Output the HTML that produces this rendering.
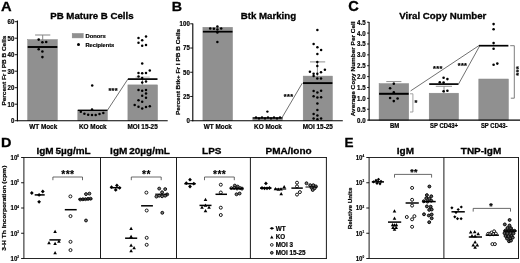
<!DOCTYPE html>
<html lang="en">
<head>
<meta charset="utf-8">
<title>Figure</title>
<style>
html,body{margin:0;padding:0;background:#fff;}
body{width:520px;height:263px;overflow:hidden;}
svg{display:block;font-family:"Liberation Sans",sans-serif;}
</style>
</head>
<body>
<svg width="520" height="263" viewBox="0 0 520 263">
<rect x="0" y="0" width="520" height="263" fill="#fff"/>
<text transform="translate(0.9 11.2) scale(1.13 1)" font-size="13.0" font-weight="bold" text-anchor="start" fill="#000" stroke="#000" stroke-width="0.3">A</text>
<text transform="translate(91.9 19.3)" font-size="9.7" font-weight="bold" text-anchor="middle" fill="#000" stroke="#000" stroke-width="0.3">PB Mature B Cells</text>
<text transform="translate(5.6 70.6) rotate(-90) scale(1.077 1)" font-size="6.0" font-weight="bold" text-anchor="middle" fill="#000" stroke="#000" stroke-width="0.2">Percent Fr I PB B Cells</text>
<rect x="27.7" y="39.6" width="29.599999999999998" height="81.1" fill="#909090" stroke="#868686" stroke-width="0.5"/>
<rect x="77.8" y="110.2" width="29.60000000000001" height="10.5" fill="#909090" stroke="#868686" stroke-width="0.5"/>
<rect x="127.9" y="84.9" width="29.599999999999994" height="35.8" fill="#909090" stroke="#868686" stroke-width="0.5"/>
<line x1="42.7" y1="35.0" x2="42.7" y2="40.0" stroke="#848484" stroke-width="1.0" stroke-linecap="butt"/>
<line x1="35.1" y1="35.0" x2="50.300000000000004" y2="35.0" stroke="#848484" stroke-width="1.0" stroke-linecap="butt"/>
<line x1="142.5" y1="77.1" x2="142.5" y2="84.8" stroke="#848484" stroke-width="0.8" stroke-linecap="butt"/>
<line x1="135.5" y1="77.1" x2="149.7" y2="77.1" stroke="#aaa" stroke-width="0.8" stroke-linecap="butt"/>
<line x1="27.7" y1="47.0" x2="57.3" y2="47.0" stroke="#000" stroke-width="1.9" stroke-linecap="butt"/>
<line x1="77.8" y1="110.3" x2="107.4" y2="110.3" stroke="#000" stroke-width="1.4" stroke-linecap="butt"/>
<line x1="127.9" y1="79.1" x2="157.5" y2="79.1" stroke="#000" stroke-width="1.7" stroke-linecap="butt"/>
<line x1="107.4" y1="110.3" x2="127.9" y2="79.1" stroke="#333" stroke-width="0.7" stroke-linecap="butt"/>
<text transform="translate(113.2 92.6)" font-size="7.3" font-weight="bold" text-anchor="middle" fill="#000" stroke="#000" stroke-width="0.25" stroke-linejoin="round" letter-spacing="0.35">***</text>
<line x1="17.4" y1="20.6" x2="17.4" y2="121.2" stroke="#000" stroke-width="1.1" stroke-linecap="butt"/>
<line x1="16.9" y1="120.7" x2="167.7" y2="120.7" stroke="#000" stroke-width="1.1" stroke-linecap="butt"/>
<line x1="14.799999999999999" y1="120.7" x2="17.4" y2="120.7" stroke="#000" stroke-width="0.9" stroke-linecap="butt"/>
<text transform="translate(14.399999999999999 123.10000000000001) scale(0.9 1)" font-size="6.8" font-weight="bold" text-anchor="end" fill="#000" stroke="#000" stroke-width="0.2">0</text>
<line x1="14.799999999999999" y1="104.2" x2="17.4" y2="104.2" stroke="#000" stroke-width="0.9" stroke-linecap="butt"/>
<text transform="translate(14.399999999999999 106.60000000000001) scale(0.9 1)" font-size="6.8" font-weight="bold" text-anchor="end" fill="#000" stroke="#000" stroke-width="0.2">10</text>
<line x1="14.799999999999999" y1="87.7" x2="17.4" y2="87.7" stroke="#000" stroke-width="0.9" stroke-linecap="butt"/>
<text transform="translate(14.399999999999999 90.10000000000001) scale(0.9 1)" font-size="6.8" font-weight="bold" text-anchor="end" fill="#000" stroke="#000" stroke-width="0.2">20</text>
<line x1="14.799999999999999" y1="71.2" x2="17.4" y2="71.2" stroke="#000" stroke-width="0.9" stroke-linecap="butt"/>
<text transform="translate(14.399999999999999 73.60000000000001) scale(0.9 1)" font-size="6.8" font-weight="bold" text-anchor="end" fill="#000" stroke="#000" stroke-width="0.2">30</text>
<line x1="14.799999999999999" y1="54.7" x2="17.4" y2="54.7" stroke="#000" stroke-width="0.9" stroke-linecap="butt"/>
<text transform="translate(14.399999999999999 57.1) scale(0.9 1)" font-size="6.8" font-weight="bold" text-anchor="end" fill="#000" stroke="#000" stroke-width="0.2">40</text>
<line x1="14.799999999999999" y1="38.2" x2="17.4" y2="38.2" stroke="#000" stroke-width="0.9" stroke-linecap="butt"/>
<text transform="translate(14.399999999999999 40.6) scale(0.9 1)" font-size="6.8" font-weight="bold" text-anchor="end" fill="#000" stroke="#000" stroke-width="0.2">50</text>
<line x1="14.799999999999999" y1="21.7" x2="17.4" y2="21.7" stroke="#000" stroke-width="0.9" stroke-linecap="butt"/>
<text transform="translate(14.399999999999999 24.099999999999998) scale(0.9 1)" font-size="6.8" font-weight="bold" text-anchor="end" fill="#000" stroke="#000" stroke-width="0.2">60</text>
<text transform="translate(43.2 128.5)" font-size="6.4" font-weight="bold" text-anchor="middle" fill="#000" stroke="#000" stroke-width="0.2">WT Mock</text>
<text transform="translate(92.8 128.5)" font-size="6.4" font-weight="bold" text-anchor="middle" fill="#000" stroke="#000" stroke-width="0.2">KO Mock</text>
<text transform="translate(142.6 128.5)" font-size="6.4" font-weight="bold" text-anchor="middle" fill="#000" stroke="#000" stroke-width="0.2">MOI 15-25</text>
<rect x="72.2" y="33.5" width="11" height="4.4" fill="#909090" stroke="#868686" stroke-width="0.5"/>
<text transform="translate(85.5 37.8)" font-size="5.8" font-weight="bold" text-anchor="start" fill="#000" stroke="#000" stroke-width="0.2">Donors</text>
<circle cx="78.5" cy="44.6" r="1.5" fill="#000"/>
<text transform="translate(85.5 46.8)" font-size="5.7" font-weight="bold" text-anchor="start" fill="#000" stroke="#000" stroke-width="0.2">Recipients</text>
<circle cx="38.7" cy="39.6" r="1.3" fill="#000"/>
<circle cx="42.4" cy="42.3" r="1.3" fill="#000"/>
<circle cx="46.2" cy="42.0" r="1.3" fill="#000"/>
<circle cx="38.7" cy="49.3" r="1.3" fill="#000"/>
<circle cx="42.4" cy="51.5" r="1.3" fill="#000"/>
<circle cx="42.4" cy="57.1" r="1.3" fill="#000"/>
<circle cx="92.2" cy="85.6" r="1.25" fill="#000"/>
<circle cx="80.8" cy="111.8" r="1.25" fill="#000"/>
<circle cx="84.4" cy="113.8" r="1.25" fill="#000"/>
<circle cx="88.2" cy="114.7" r="1.25" fill="#000"/>
<circle cx="92" cy="114.9" r="1.25" fill="#000"/>
<circle cx="95.7" cy="114.9" r="1.25" fill="#000"/>
<circle cx="99.5" cy="114.1" r="1.25" fill="#000"/>
<circle cx="103.3" cy="113.1" r="1.25" fill="#000"/>
<circle cx="92" cy="109.6" r="1.25" fill="#000"/>
<circle cx="138.5" cy="38.0" r="1.25" fill="#000"/>
<circle cx="146" cy="36.4" r="1.25" fill="#000"/>
<circle cx="142.2" cy="40.2" r="1.25" fill="#000"/>
<circle cx="138.5" cy="42.7" r="1.25" fill="#000"/>
<circle cx="142.2" cy="45.8" r="1.25" fill="#000"/>
<circle cx="146" cy="44.9" r="1.25" fill="#000"/>
<circle cx="142.2" cy="63.6" r="1.25" fill="#000"/>
<circle cx="149.8" cy="70.5" r="1.25" fill="#000"/>
<circle cx="138.5" cy="73.1" r="1.25" fill="#000"/>
<circle cx="142.2" cy="73.3" r="1.25" fill="#000"/>
<circle cx="146" cy="73.1" r="1.25" fill="#000"/>
<circle cx="138.5" cy="76.6" r="1.25" fill="#000"/>
<circle cx="142.2" cy="78" r="1.25" fill="#000"/>
<circle cx="142.2" cy="82.5" r="1.25" fill="#000"/>
<circle cx="146" cy="81.6" r="1.25" fill="#000"/>
<circle cx="138.5" cy="90.1" r="1.25" fill="#000"/>
<circle cx="142.2" cy="90.8" r="1.25" fill="#000"/>
<circle cx="146" cy="90.1" r="1.25" fill="#000"/>
<circle cx="146" cy="93.6" r="1.25" fill="#000"/>
<circle cx="142.2" cy="95.8" r="1.25" fill="#000"/>
<circle cx="146" cy="97.8" r="1.25" fill="#000"/>
<circle cx="138.5" cy="100.2" r="1.25" fill="#000"/>
<circle cx="142.2" cy="101.8" r="1.25" fill="#000"/>
<circle cx="134.7" cy="104.9" r="1.25" fill="#000"/>
<circle cx="138.5" cy="106.8" r="1.25" fill="#000"/>
<circle cx="142.2" cy="108.5" r="1.25" fill="#000"/>
<circle cx="146" cy="107.1" r="1.25" fill="#000"/>
<circle cx="149.8" cy="106.2" r="1.25" fill="#000"/>
<text transform="translate(171.8 10.7) scale(1.05 1)" font-size="13.6" font-weight="bold" text-anchor="start" fill="#000" stroke="#000" stroke-width="0.3">B</text>
<text transform="translate(268.4 19.4)" font-size="9.7" font-weight="bold" text-anchor="middle" fill="#000" stroke="#000" stroke-width="0.3">Btk Marking</text>
<text transform="translate(180.0 71.9) rotate(-90) scale(1.08 1)" font-size="6.0" font-weight="bold" text-anchor="middle" fill="#000" stroke="#000" stroke-width="0.2">Percent Btk+ Fr I PB B Cells</text>
<rect x="202.9" y="27.3" width="29.599999999999994" height="93.4" fill="#909090" stroke="#868686" stroke-width="0.5"/>
<rect x="252.8" y="117.6" width="29.599999999999966" height="3.1000000000000085" fill="#909090" stroke="#868686" stroke-width="0.5"/>
<rect x="303.2" y="76.1" width="29.19999999999999" height="44.60000000000001" fill="#909090" stroke="#868686" stroke-width="0.5"/>
<line x1="317.4" y1="61.9" x2="317.4" y2="76.1" stroke="#848484" stroke-width="0.9" stroke-linecap="butt"/>
<line x1="310.0" y1="61.9" x2="325.2" y2="61.9" stroke="#848484" stroke-width="0.9" stroke-linecap="butt"/>
<line x1="202.9" y1="31.7" x2="232.5" y2="31.7" stroke="#000" stroke-width="1.7" stroke-linecap="butt"/>
<line x1="252.8" y1="118.0" x2="282.4" y2="118.0" stroke="#000" stroke-width="1.3" stroke-linecap="butt"/>
<line x1="303.0" y1="83.1" x2="332.4" y2="83.1" stroke="#000" stroke-width="1.9" stroke-linecap="butt"/>
<line x1="281.8" y1="118.0" x2="302.3" y2="83.1" stroke="#333" stroke-width="0.7" stroke-linecap="butt"/>
<text transform="translate(288.6 98.8)" font-size="7.3" font-weight="bold" text-anchor="middle" fill="#000" stroke="#000" stroke-width="0.25" stroke-linejoin="round" letter-spacing="0.35">***</text>
<line x1="192.8" y1="23.4" x2="192.8" y2="121.2" stroke="#000" stroke-width="1.1" stroke-linecap="butt"/>
<line x1="192.3" y1="120.7" x2="342.8" y2="120.7" stroke="#000" stroke-width="1.1" stroke-linecap="butt"/>
<line x1="190.20000000000002" y1="120.7" x2="192.8" y2="120.7" stroke="#000" stroke-width="0.9" stroke-linecap="butt"/>
<text transform="translate(189.8 123.10000000000001) scale(0.9 1)" font-size="6.8" font-weight="bold" text-anchor="end" fill="#000" stroke="#000" stroke-width="0.2">0</text>
<line x1="190.20000000000002" y1="96.48" x2="192.8" y2="96.48" stroke="#000" stroke-width="0.9" stroke-linecap="butt"/>
<text transform="translate(189.8 98.88000000000001) scale(0.9 1)" font-size="6.8" font-weight="bold" text-anchor="end" fill="#000" stroke="#000" stroke-width="0.2">25</text>
<line x1="190.20000000000002" y1="72.25" x2="192.8" y2="72.25" stroke="#000" stroke-width="0.9" stroke-linecap="butt"/>
<text transform="translate(189.8 74.65) scale(0.9 1)" font-size="6.8" font-weight="bold" text-anchor="end" fill="#000" stroke="#000" stroke-width="0.2">50</text>
<line x1="190.20000000000002" y1="48.03" x2="192.8" y2="48.03" stroke="#000" stroke-width="0.9" stroke-linecap="butt"/>
<text transform="translate(189.8 50.43) scale(0.9 1)" font-size="6.8" font-weight="bold" text-anchor="end" fill="#000" stroke="#000" stroke-width="0.2">75</text>
<line x1="190.20000000000002" y1="23.8" x2="192.8" y2="23.8" stroke="#000" stroke-width="0.9" stroke-linecap="butt"/>
<text transform="translate(189.8 26.2) scale(0.9 1)" font-size="6.8" font-weight="bold" text-anchor="end" fill="#000" stroke="#000" stroke-width="0.2">100</text>
<text transform="translate(217.8 128.5)" font-size="6.4" font-weight="bold" text-anchor="middle" fill="#000" stroke="#000" stroke-width="0.2">WT Mock</text>
<text transform="translate(267.9 128.5)" font-size="6.4" font-weight="bold" text-anchor="middle" fill="#000" stroke="#000" stroke-width="0.2">KO Mock</text>
<text transform="translate(317.8 128.5)" font-size="6.4" font-weight="bold" text-anchor="middle" fill="#000" stroke="#000" stroke-width="0.2">MOI 15-25</text>
<circle cx="210.2" cy="28.4" r="1.25" fill="#000"/>
<circle cx="213.9" cy="28.8" r="1.25" fill="#000"/>
<circle cx="217.4" cy="26.5" r="1.25" fill="#000"/>
<circle cx="221.2" cy="28.4" r="1.25" fill="#000"/>
<circle cx="217.4" cy="29.5" r="1.25" fill="#000"/>
<circle cx="217.4" cy="32.4" r="1.25" fill="#000"/>
<circle cx="217.4" cy="41.9" r="1.25" fill="#000"/>
<circle cx="267.4" cy="111.6" r="1.2" fill="#000"/>
<circle cx="256" cy="117.4" r="1.2" fill="#000"/>
<circle cx="259" cy="118.4" r="1.2" fill="#000"/>
<circle cx="262" cy="117.4" r="1.2" fill="#000"/>
<circle cx="265" cy="118.4" r="1.2" fill="#000"/>
<circle cx="268" cy="117.4" r="1.2" fill="#000"/>
<circle cx="271" cy="118.4" r="1.2" fill="#000"/>
<circle cx="274" cy="117.4" r="1.2" fill="#000"/>
<circle cx="277" cy="118.4" r="1.2" fill="#000"/>
<circle cx="280" cy="117.4" r="1.2" fill="#000"/>
<circle cx="317.4" cy="29.9" r="1.25" fill="#000"/>
<circle cx="313.6" cy="44" r="1.25" fill="#000"/>
<circle cx="317.4" cy="47.3" r="1.25" fill="#000"/>
<circle cx="321.1" cy="49.9" r="1.25" fill="#000"/>
<circle cx="317.4" cy="54" r="1.25" fill="#000"/>
<circle cx="317.3" cy="61.9" r="1.25" fill="#000"/>
<circle cx="317.3" cy="65.9" r="1.25" fill="#000"/>
<circle cx="309.9" cy="71.7" r="1.25" fill="#000"/>
<circle cx="324.9" cy="69.8" r="1.25" fill="#000"/>
<circle cx="321" cy="72.2" r="1.25" fill="#000"/>
<circle cx="313.6" cy="73.8" r="1.25" fill="#000"/>
<circle cx="317.3" cy="73.8" r="1.25" fill="#000"/>
<circle cx="313.6" cy="75.9" r="1.25" fill="#000"/>
<circle cx="317.3" cy="78.4" r="1.25" fill="#000"/>
<circle cx="321" cy="78.4" r="1.25" fill="#000"/>
<circle cx="313.6" cy="91.1" r="1.25" fill="#000"/>
<circle cx="317.4" cy="92.4" r="1.25" fill="#000"/>
<circle cx="321.1" cy="90.8" r="1.25" fill="#000"/>
<circle cx="313.6" cy="96.2" r="1.25" fill="#000"/>
<circle cx="317.4" cy="97.4" r="1.25" fill="#000"/>
<circle cx="321.1" cy="97.2" r="1.25" fill="#000"/>
<circle cx="317.4" cy="103.4" r="1.25" fill="#000"/>
<circle cx="317.4" cy="110" r="1.25" fill="#000"/>
<circle cx="313.6" cy="114" r="1.25" fill="#000"/>
<circle cx="317.4" cy="115.6" r="1.25" fill="#000"/>
<circle cx="313.6" cy="118.5" r="1.25" fill="#000"/>
<circle cx="317.4" cy="119.2" r="1.25" fill="#000"/>
<circle cx="321.1" cy="118.5" r="1.25" fill="#000"/>
<text transform="translate(348.2 11.3) scale(1.02 1)" font-size="14.3" font-weight="bold" text-anchor="start" fill="#000" stroke="#000" stroke-width="0.3">C</text>
<text transform="translate(442.8 18.9)" font-size="9.7" font-weight="bold" text-anchor="middle" fill="#000" stroke="#000" stroke-width="0.3">Viral Copy Number</text>
<text transform="translate(354.7 68.9) rotate(-90) scale(1.074 1)" font-size="6.0" font-weight="bold" text-anchor="middle" fill="#000" stroke="#000" stroke-width="0.2">Average Copy Number Per Cell</text>
<rect x="379.1" y="83.6" width="29.599999999999966" height="36.5" fill="#909090" stroke="#868686" stroke-width="0.5"/>
<rect x="429.2" y="93.2" width="29.30000000000001" height="26.89999999999999" fill="#909090" stroke="#868686" stroke-width="0.5"/>
<rect x="478.8" y="79.0" width="29.599999999999966" height="41.099999999999994" fill="#909090" stroke="#868686" stroke-width="0.5"/>
<line x1="393.9" y1="81.6" x2="393.9" y2="83.6" stroke="#848484" stroke-width="0.9" stroke-linecap="butt"/>
<line x1="386.3" y1="81.6" x2="401.4" y2="81.6" stroke="#909090" stroke-width="1.0" stroke-linecap="butt"/>
<line x1="444.0" y1="86.3" x2="444.0" y2="93.2" stroke="#848484" stroke-width="0.9" stroke-linecap="butt"/>
<line x1="435.8" y1="86.3" x2="452.0" y2="86.3" stroke="#848484" stroke-width="0.9" stroke-linecap="butt"/>
<line x1="379.1" y1="93.8" x2="408.7" y2="93.8" stroke="#000" stroke-width="2.0" stroke-linecap="butt"/>
<line x1="429.2" y1="84.1" x2="458.5" y2="84.1" stroke="#000" stroke-width="1.7" stroke-linecap="butt"/>
<line x1="478.8" y1="45.7" x2="508.4" y2="45.7" stroke="#000" stroke-width="1.7" stroke-linecap="butt"/>
<line x1="410.6" y1="90.9" x2="478.8" y2="45.7" stroke="#333" stroke-width="0.7" stroke-linecap="butt"/>
<line x1="458.5" y1="84.1" x2="479.8" y2="45.7" stroke="#333" stroke-width="0.7" stroke-linecap="butt"/>
<text transform="translate(437.9 71.1)" font-size="7.3" font-weight="bold" text-anchor="middle" fill="#000" stroke="#000" stroke-width="0.25" stroke-linejoin="round" letter-spacing="0.35">***</text>
<text transform="translate(462.5 68.0)" font-size="7.3" font-weight="bold" text-anchor="middle" fill="#000" stroke="#000" stroke-width="0.25" stroke-linejoin="round" letter-spacing="0.35">***</text>
<path d="M410.0 93.8L412.9 93.8L412.9 112.0L410.0 112.0" fill="none" stroke="#8a8a8a" stroke-width="0.8"/>
<text transform="translate(416.2 104.5)" font-size="7.3" font-weight="bold" text-anchor="middle" fill="#000" stroke="#000" stroke-width="0.25" stroke-linejoin="round" letter-spacing="0.35">*</text>
<path d="M510.2 45.7L514.3 45.7L514.3 98.2L510.8 98.2" fill="none" stroke="#666" stroke-width="0.85"/>
<text transform="translate(521.2 70.9) rotate(-90)" font-size="7.5" font-weight="bold" text-anchor="middle" fill="#000" stroke="#000" stroke-width="0.25" stroke-linejoin="round" letter-spacing="0.35">***</text>
<line x1="369.1" y1="21.9" x2="369.1" y2="120.6" stroke="#2a2a2a" stroke-width="1.3" stroke-linecap="butt"/>
<line x1="368.6" y1="120.1" x2="520" y2="120.1" stroke="#000" stroke-width="1.1" stroke-linecap="butt"/>
<line x1="367.1" y1="120.1" x2="369.1" y2="120.1" stroke="#000" stroke-width="0.9" stroke-linecap="butt"/>
<text transform="translate(365.6 122.5) scale(0.9 1)" font-size="6.8" font-weight="bold" text-anchor="end" fill="#000" stroke="#000" stroke-width="0.2">0.0</text>
<line x1="367.1" y1="109.22" x2="369.1" y2="109.22" stroke="#000" stroke-width="0.9" stroke-linecap="butt"/>
<text transform="translate(365.6 111.62) scale(0.9 1)" font-size="6.8" font-weight="bold" text-anchor="end" fill="#000" stroke="#000" stroke-width="0.2">0.5</text>
<line x1="367.1" y1="98.35" x2="369.1" y2="98.35" stroke="#000" stroke-width="0.9" stroke-linecap="butt"/>
<text transform="translate(365.6 100.75) scale(0.9 1)" font-size="6.8" font-weight="bold" text-anchor="end" fill="#000" stroke="#000" stroke-width="0.2">1.0</text>
<line x1="367.1" y1="87.47" x2="369.1" y2="87.47" stroke="#000" stroke-width="0.9" stroke-linecap="butt"/>
<text transform="translate(365.6 89.87) scale(0.9 1)" font-size="6.8" font-weight="bold" text-anchor="end" fill="#000" stroke="#000" stroke-width="0.2">1.5</text>
<line x1="367.1" y1="76.6" x2="369.1" y2="76.6" stroke="#000" stroke-width="0.9" stroke-linecap="butt"/>
<text transform="translate(365.6 79.0) scale(0.9 1)" font-size="6.8" font-weight="bold" text-anchor="end" fill="#000" stroke="#000" stroke-width="0.2">2.0</text>
<line x1="367.1" y1="65.72" x2="369.1" y2="65.72" stroke="#000" stroke-width="0.9" stroke-linecap="butt"/>
<text transform="translate(365.6 68.12) scale(0.9 1)" font-size="6.8" font-weight="bold" text-anchor="end" fill="#000" stroke="#000" stroke-width="0.2">2.5</text>
<line x1="367.1" y1="54.85" x2="369.1" y2="54.85" stroke="#000" stroke-width="0.9" stroke-linecap="butt"/>
<text transform="translate(365.6 57.25) scale(0.9 1)" font-size="6.8" font-weight="bold" text-anchor="end" fill="#000" stroke="#000" stroke-width="0.2">3.0</text>
<line x1="367.1" y1="43.97" x2="369.1" y2="43.97" stroke="#000" stroke-width="0.9" stroke-linecap="butt"/>
<text transform="translate(365.6 46.37) scale(0.9 1)" font-size="6.8" font-weight="bold" text-anchor="end" fill="#000" stroke="#000" stroke-width="0.2">3.5</text>
<line x1="367.1" y1="33.1" x2="369.1" y2="33.1" stroke="#000" stroke-width="0.9" stroke-linecap="butt"/>
<text transform="translate(365.6 35.5) scale(0.9 1)" font-size="6.8" font-weight="bold" text-anchor="end" fill="#000" stroke="#000" stroke-width="0.2">4.0</text>
<line x1="367.1" y1="22.22" x2="369.1" y2="22.22" stroke="#000" stroke-width="0.9" stroke-linecap="butt"/>
<text transform="translate(365.6 24.619999999999997) scale(0.9 1)" font-size="6.8" font-weight="bold" text-anchor="end" fill="#000" stroke="#000" stroke-width="0.2">4.5</text>
<text transform="translate(394.6 128.4) scale(0.94 1)" font-size="6.3" font-weight="bold" text-anchor="middle" fill="#000" stroke="#000" stroke-width="0.2">BM</text>
<text transform="translate(444.0 128.4) scale(0.94 1)" font-size="6.3" font-weight="bold" text-anchor="middle" fill="#000" stroke="#000" stroke-width="0.2">SP CD43+</text>
<text transform="translate(494.2 128.4) scale(0.94 1)" font-size="6.3" font-weight="bold" text-anchor="middle" fill="#000" stroke="#000" stroke-width="0.2">SP CD43-</text>
<circle cx="393.8" cy="83.8" r="1.3" fill="#000"/>
<circle cx="390.1" cy="88.2" r="1.3" fill="#000"/>
<circle cx="393.8" cy="92.4" r="1.3" fill="#000"/>
<circle cx="390.1" cy="98" r="1.3" fill="#000"/>
<circle cx="397.6" cy="98.5" r="1.3" fill="#000"/>
<circle cx="393.8" cy="101.1" r="1.3" fill="#000"/>
<circle cx="443.6" cy="77.8" r="1.3" fill="#000"/>
<circle cx="447.4" cy="79.1" r="1.3" fill="#000"/>
<circle cx="439.8" cy="82.2" r="1.3" fill="#000"/>
<circle cx="443.6" cy="82.6" r="1.3" fill="#000"/>
<circle cx="443.6" cy="91.3" r="1.3" fill="#000"/>
<circle cx="447.4" cy="90.7" r="1.3" fill="#000"/>
<circle cx="493.6" cy="24.1" r="1.3" fill="#000"/>
<circle cx="493.6" cy="29.3" r="1.3" fill="#000"/>
<circle cx="493.6" cy="43.1" r="1.3" fill="#000"/>
<circle cx="493.6" cy="48.8" r="1.3" fill="#000"/>
<circle cx="493.6" cy="64.7" r="1.3" fill="#000"/>
<circle cx="497.3" cy="63.6" r="1.3" fill="#000"/>
<text transform="translate(0.9 147.3) scale(1.07 1)" font-size="13.5" font-weight="bold" text-anchor="start" fill="#000" stroke="#000" stroke-width="0.3">D</text>
<text transform="translate(6.0 208.2) rotate(-90) scale(1.073 1)" font-size="6.2" font-weight="bold" text-anchor="middle" fill="#000" stroke="#000" stroke-width="0.2">3-H Th Incorporation (cpm)</text>
<line x1="23.9" y1="157.5" x2="326.9" y2="157.5" stroke="#1a1a1a" stroke-width="0.95" stroke-linecap="butt"/>
<line x1="23.9" y1="258.5" x2="326.9" y2="258.5" stroke="#1a1a1a" stroke-width="0.95" stroke-linecap="butt"/>
<line x1="23.9" y1="157.0" x2="23.9" y2="259.0" stroke="#1a1a1a" stroke-width="1.0" stroke-linecap="butt"/>
<line x1="100.5" y1="157.0" x2="100.5" y2="259.0" stroke="#1a1a1a" stroke-width="1.0" stroke-linecap="butt"/>
<line x1="176.5" y1="157.0" x2="176.5" y2="259.0" stroke="#1a1a1a" stroke-width="1.0" stroke-linecap="butt"/>
<line x1="250.4" y1="157.0" x2="250.4" y2="259.0" stroke="#1a1a1a" stroke-width="1.0" stroke-linecap="butt"/>
<line x1="326.4" y1="157.0" x2="326.4" y2="259.0" stroke="#1a1a1a" stroke-width="1.0" stroke-linecap="butt"/>
<line x1="21.099999999999998" y1="157.5" x2="23.9" y2="157.5" stroke="#000" stroke-width="0.9" stroke-linecap="butt"/>
<text transform="translate(19.0 159.9) scale(0.9 1)" font-size="6.8" font-weight="bold" text-anchor="end" stroke="#000" stroke-width="0.15">10<tspan font-size="3.4" dy="-2.9">6</tspan></text>
<line x1="21.099999999999998" y1="182.75" x2="23.9" y2="182.75" stroke="#000" stroke-width="0.9" stroke-linecap="butt"/>
<text transform="translate(19.0 185.15) scale(0.9 1)" font-size="6.8" font-weight="bold" text-anchor="end" stroke="#000" stroke-width="0.15">10<tspan font-size="3.4" dy="-2.9">5</tspan></text>
<line x1="21.099999999999998" y1="208.0" x2="23.9" y2="208.0" stroke="#000" stroke-width="0.9" stroke-linecap="butt"/>
<text transform="translate(19.0 210.4) scale(0.9 1)" font-size="6.8" font-weight="bold" text-anchor="end" stroke="#000" stroke-width="0.15">10<tspan font-size="3.4" dy="-2.9">4</tspan></text>
<line x1="21.099999999999998" y1="233.25" x2="23.9" y2="233.25" stroke="#000" stroke-width="0.9" stroke-linecap="butt"/>
<text transform="translate(19.0 235.65) scale(0.9 1)" font-size="6.8" font-weight="bold" text-anchor="end" stroke="#000" stroke-width="0.15">10<tspan font-size="3.4" dy="-2.9">3</tspan></text>
<line x1="21.099999999999998" y1="258.5" x2="23.9" y2="258.5" stroke="#000" stroke-width="0.9" stroke-linecap="butt"/>
<text transform="translate(19.0 260.9) scale(0.9 1)" font-size="6.8" font-weight="bold" text-anchor="end" stroke="#000" stroke-width="0.15">10<tspan font-size="3.4" dy="-2.9">2</tspan></text>
<text transform="translate(63.5 154.0) scale(1.02 1)" font-size="9.8" font-weight="bold" text-anchor="middle" fill="#000" word-spacing="-0.8" stroke="#000" stroke-width="0.3">IgM 5µg/mL</text>
<text transform="translate(140 154.0) scale(1.02 1)" font-size="9.8" font-weight="bold" text-anchor="middle" fill="#000" word-spacing="-0.8" stroke="#000" stroke-width="0.3">IgM 20µg/mL</text>
<text transform="translate(211.8 154.0) scale(1.02 1)" font-size="9.8" font-weight="bold" text-anchor="middle" fill="#000" word-spacing="-0.8" stroke="#000" stroke-width="0.3">LPS</text>
<text transform="translate(288.6 154.0) scale(1.02 1)" font-size="9.8" font-weight="bold" text-anchor="middle" fill="#000" word-spacing="-0.8" stroke="#000" stroke-width="0.3">PMA/Iono</text>
<path d="M52.9 180.2L52.9 177.0L82.5 177.0L82.5 180.2" fill="none" stroke="#444" stroke-width="0.8"/>
<text transform="translate(67.9 178.2)" font-size="10.4" font-weight="bold" text-anchor="middle" fill="#000" stroke="#000" stroke-width="0.15" stroke-linejoin="round" letter-spacing="0.35">***</text>
<path d="M131.3 180.2L131.3 177.0L161.2 177.0L161.2 180.2" fill="none" stroke="#444" stroke-width="0.8"/>
<text transform="translate(146.45 178.2)" font-size="10.4" font-weight="bold" text-anchor="middle" fill="#000" stroke="#000" stroke-width="0.15" stroke-linejoin="round" letter-spacing="0.35">**</text>
<path d="M204.5 180.2L204.5 177.0L234.3 177.0L234.3 180.2" fill="none" stroke="#444" stroke-width="0.8"/>
<text transform="translate(219.6 178.2)" font-size="10.4" font-weight="bold" text-anchor="middle" fill="#000" stroke="#000" stroke-width="0.15" stroke-linejoin="round" letter-spacing="0.35">***</text>
<path d="M29.900000000000002 193.0L31.8 191.1L33.7 193.0L31.8 194.9Z" fill="#000"/>
<path d="M40.9 191.5L42.8 189.6L44.699999999999996 191.5L42.8 193.4Z" fill="#000"/>
<path d="M37.2 194.9L39.1 193.0L41.0 194.9L39.1 196.8Z" fill="#000"/>
<path d="M37.2 201.8L39.1 199.9L41.0 201.8L39.1 203.70000000000002Z" fill="#000"/>
<line x1="34.7" y1="194.9" x2="44.7" y2="194.9" stroke="#000" stroke-width="1.5" stroke-linecap="butt"/>
<path d="M53.300000000000004 233.03L55.1 229.79L56.9 233.03Z" fill="#000"/>
<path d="M47.2 244.33L49 241.09L50.8 244.33Z" fill="#000"/>
<path d="M53.300000000000004 244.93L55.1 241.69L56.9 244.93Z" fill="#000"/>
<path d="M57.1 242.73L58.9 239.48999999999998L60.699999999999996 242.73Z" fill="#000"/>
<path d="M53.300000000000004 254.13L55.1 250.89L56.9 254.13Z" fill="#000"/>
<line x1="49.4" y1="239.9" x2="60.7" y2="239.9" stroke="#000" stroke-width="1.5" stroke-linecap="butt"/>
<circle cx="70.4" cy="196.4" r="1.5" fill="#fff" stroke="#000" stroke-width="0.9"/>
<circle cx="70.5" cy="216.1" r="1.5" fill="#fff" stroke="#000" stroke-width="0.9"/>
<circle cx="70.5" cy="241.8" r="1.5" fill="#fff" stroke="#000" stroke-width="0.9"/>
<circle cx="70.5" cy="250.1" r="1.5" fill="#fff" stroke="#000" stroke-width="0.9"/>
<line x1="64.8" y1="209.7" x2="76.7" y2="209.7" stroke="#000" stroke-width="1.5" stroke-linecap="butt"/>
<circle cx="80.3" cy="199.5" r="1.45" fill="#7a7a7a" stroke="#000" stroke-width="0.9"/>
<circle cx="82.9" cy="199.3" r="1.45" fill="#7a7a7a" stroke="#000" stroke-width="0.9"/>
<circle cx="85.5" cy="199.2" r="1.45" fill="#7a7a7a" stroke="#000" stroke-width="0.9"/>
<circle cx="88.1" cy="198.9" r="1.45" fill="#7a7a7a" stroke="#000" stroke-width="0.9"/>
<circle cx="90.6" cy="198.7" r="1.45" fill="#7a7a7a" stroke="#000" stroke-width="0.9"/>
<circle cx="86.0" cy="194.1" r="1.45" fill="#7a7a7a" stroke="#000" stroke-width="0.9"/>
<circle cx="89.4" cy="193.6" r="1.45" fill="#7a7a7a" stroke="#000" stroke-width="0.9"/>
<circle cx="86" cy="220.5" r="1.45" fill="#7a7a7a" stroke="#000" stroke-width="0.9"/>
<line x1="78.4" y1="199.2" x2="92.3" y2="199.0" stroke="#000" stroke-width="1.2" stroke-linecap="butt"/>
<path d="M109.6 187.2L111.5 185.29999999999998L113.4 187.2L111.5 189.1Z" fill="#000"/>
<path d="M115.0 185.4L116.9 183.5L118.80000000000001 185.4L116.9 187.3Z" fill="#000"/>
<path d="M117.69999999999999 187.8L119.6 185.9L121.5 187.8L119.6 189.70000000000002Z" fill="#000"/>
<path d="M113.8 189.9L115.7 188.0L117.60000000000001 189.9L115.7 191.8Z" fill="#000"/>
<line x1="110.5" y1="187.7" x2="120.8" y2="187.7" stroke="#000" stroke-width="1.5" stroke-linecap="butt"/>
<path d="M129.29999999999998 230.03L131.1 226.79L132.9 230.03Z" fill="#000"/>
<path d="M129.29999999999998 238.03L131.1 234.79L132.9 238.03Z" fill="#000"/>
<path d="M129.29999999999998 246.83L131.1 243.59L132.9 246.83Z" fill="#000"/>
<path d="M132.29999999999998 249.13L134.1 245.89L135.9 249.13Z" fill="#000"/>
<path d="M129.29999999999998 252.23L131.1 248.98999999999998L132.9 252.23Z" fill="#000"/>
<line x1="125.1" y1="238.2" x2="137.2" y2="238.2" stroke="#000" stroke-width="1.5" stroke-linecap="butt"/>
<circle cx="146.4" cy="192.6" r="1.5" fill="#fff" stroke="#000" stroke-width="0.9"/>
<circle cx="146.7" cy="210.5" r="1.5" fill="#fff" stroke="#000" stroke-width="0.9"/>
<circle cx="146.7" cy="237.8" r="1.5" fill="#fff" stroke="#000" stroke-width="0.9"/>
<circle cx="146.7" cy="244.8" r="1.5" fill="#fff" stroke="#000" stroke-width="0.9"/>
<line x1="141.1" y1="205.8" x2="152.9" y2="205.8" stroke="#000" stroke-width="1.5" stroke-linecap="butt"/>
<circle cx="159.2" cy="188.6" r="1.45" fill="#7a7a7a" stroke="#000" stroke-width="0.9"/>
<circle cx="165.2" cy="189.1" r="1.45" fill="#7a7a7a" stroke="#000" stroke-width="0.9"/>
<circle cx="162.1" cy="192.3" r="1.45" fill="#7a7a7a" stroke="#000" stroke-width="0.9"/>
<circle cx="156.4" cy="196.6" r="1.45" fill="#7a7a7a" stroke="#000" stroke-width="0.9"/>
<circle cx="159.2" cy="195.7" r="1.45" fill="#7a7a7a" stroke="#000" stroke-width="0.9"/>
<circle cx="162.1" cy="196.3" r="1.45" fill="#7a7a7a" stroke="#000" stroke-width="0.9"/>
<circle cx="165.2" cy="195.7" r="1.45" fill="#7a7a7a" stroke="#000" stroke-width="0.9"/>
<circle cx="167.2" cy="194.4" r="1.45" fill="#7a7a7a" stroke="#000" stroke-width="0.9"/>
<circle cx="162.3" cy="212.8" r="1.45" fill="#7a7a7a" stroke="#000" stroke-width="0.9"/>
<line x1="155.2" y1="194.2" x2="167.7" y2="194.2" stroke="#000" stroke-width="1.2" stroke-linecap="butt"/>
<path d="M184.4 183.2L186.3 181.29999999999998L188.20000000000002 183.2L186.3 185.1Z" fill="#000"/>
<path d="M188.1 179.7L190 177.79999999999998L191.9 179.7L190 181.6Z" fill="#000"/>
<path d="M191.9 183.7L193.8 181.79999999999998L195.70000000000002 183.7L193.8 185.6Z" fill="#000"/>
<path d="M188.1 186.5L190 184.6L191.9 186.5L190 188.4Z" fill="#000"/>
<line x1="184.4" y1="183.7" x2="195.7" y2="183.7" stroke="#000" stroke-width="1.5" stroke-linecap="butt"/>
<path d="M203.7 200.93L205.5 197.69L207.3 200.93Z" fill="#000"/>
<path d="M200.2 208.73L202 205.48999999999998L203.8 208.73Z" fill="#000"/>
<path d="M207.2 208.73L209 205.48999999999998L210.8 208.73Z" fill="#000"/>
<path d="M203.7 212.23L205.5 208.98999999999998L207.3 212.23Z" fill="#000"/>
<path d="M203.7 206.73L205.5 203.48999999999998L207.3 206.73Z" fill="#000"/>
<line x1="199.5" y1="205.4" x2="211.5" y2="205.4" stroke="#000" stroke-width="1.5" stroke-linecap="butt"/>
<circle cx="220.8" cy="184.7" r="1.5" fill="#fff" stroke="#000" stroke-width="0.9"/>
<circle cx="220.8" cy="192.5" r="1.5" fill="#fff" stroke="#000" stroke-width="0.9"/>
<circle cx="220.8" cy="207.7" r="1.5" fill="#fff" stroke="#000" stroke-width="0.9"/>
<circle cx="220.8" cy="215.0" r="1.5" fill="#fff" stroke="#000" stroke-width="0.9"/>
<line x1="215.5" y1="194.3" x2="227.0" y2="194.3" stroke="#000" stroke-width="1.5" stroke-linecap="butt"/>
<circle cx="231.4" cy="188.1" r="1.45" fill="#7a7a7a" stroke="#000" stroke-width="0.9"/>
<circle cx="234.8" cy="185.6" r="1.45" fill="#7a7a7a" stroke="#000" stroke-width="0.9"/>
<circle cx="237.7" cy="186.6" r="1.45" fill="#7a7a7a" stroke="#000" stroke-width="0.9"/>
<circle cx="234.2" cy="188.0" r="1.45" fill="#7a7a7a" stroke="#000" stroke-width="0.9"/>
<circle cx="237.1" cy="188.5" r="1.45" fill="#7a7a7a" stroke="#000" stroke-width="0.9"/>
<circle cx="240.2" cy="188.1" r="1.45" fill="#7a7a7a" stroke="#000" stroke-width="0.9"/>
<circle cx="242.0" cy="188.6" r="1.45" fill="#7a7a7a" stroke="#000" stroke-width="0.9"/>
<circle cx="236.5" cy="194.3" r="1.45" fill="#7a7a7a" stroke="#000" stroke-width="0.9"/>
<circle cx="239.6" cy="193.5" r="1.45" fill="#7a7a7a" stroke="#000" stroke-width="0.9"/>
<line x1="229.8" y1="188.6" x2="243" y2="188.6" stroke="#000" stroke-width="1.2" stroke-linecap="butt"/>
<path d="M260.1 188L262 186.1L263.9 188L262 189.9Z" fill="#000"/>
<path d="M262.6 188.3L264.5 186.4L266.4 188.3L264.5 190.20000000000002Z" fill="#000"/>
<path d="M265.1 188.3L267 186.4L268.9 188.3L267 190.20000000000002Z" fill="#000"/>
<path d="M267.6 188L269.5 186.1L271.4 188L269.5 189.9Z" fill="#000"/>
<path d="M264.0 183.4L265.9 181.5L267.79999999999995 183.4L265.9 185.3Z" fill="#000"/>
<line x1="260" y1="188.1" x2="271.5" y2="188.1" stroke="#000" stroke-width="1.5" stroke-linecap="butt"/>
<path d="M273.7 190.23L275.5 186.98999999999998L277.3 190.23Z" fill="#000"/>
<path d="M276.5 190.73L278.3 187.48999999999998L280.1 190.73Z" fill="#000"/>
<path d="M279.2 190.43L281 187.19L282.8 190.43Z" fill="#000"/>
<path d="M282.4 188.33L284.2 185.09L286.0 188.33Z" fill="#000"/>
<path d="M279.4 195.33L281.2 192.09L283.0 195.33Z" fill="#000"/>
<line x1="274.5" y1="189.0" x2="286.2" y2="189.0" stroke="#000" stroke-width="1.2" stroke-linecap="butt"/>
<circle cx="297" cy="182.7" r="1.5" fill="#fff" stroke="#000" stroke-width="0.9"/>
<circle cx="297" cy="186.4" r="1.5" fill="#fff" stroke="#000" stroke-width="0.9"/>
<circle cx="297" cy="194.6" r="1.5" fill="#fff" stroke="#000" stroke-width="0.9"/>
<circle cx="299.9" cy="192.1" r="1.5" fill="#fff" stroke="#000" stroke-width="0.9"/>
<line x1="291.4" y1="188.1" x2="302.8" y2="188.1" stroke="#000" stroke-width="1.5" stroke-linecap="butt"/>
<circle cx="306.5" cy="183.3" r="1.45" fill="#7a7a7a" stroke="#000" stroke-width="0.9"/>
<circle cx="310.2" cy="185.2" r="1.45" fill="#7a7a7a" stroke="#000" stroke-width="0.9"/>
<circle cx="313.3" cy="185.2" r="1.45" fill="#7a7a7a" stroke="#000" stroke-width="0.9"/>
<circle cx="315.9" cy="186.4" r="1.45" fill="#7a7a7a" stroke="#000" stroke-width="0.9"/>
<circle cx="311.5" cy="187.7" r="1.45" fill="#7a7a7a" stroke="#000" stroke-width="0.9"/>
<circle cx="314.6" cy="188.3" r="1.45" fill="#7a7a7a" stroke="#000" stroke-width="0.9"/>
<circle cx="312.7" cy="190.0" r="1.45" fill="#7a7a7a" stroke="#000" stroke-width="0.9"/>
<line x1="305.5" y1="187" x2="317.5" y2="187" stroke="#000" stroke-width="1.0" stroke-linecap="butt"/>
<path d="M269.6 228.3L271.9 226.9L274.2 228.3L271.9 229.7Z" fill="#000"/>
<text transform="translate(275.8 230.5)" font-size="6.3" font-weight="bold" text-anchor="start" fill="#000" stroke="#000" stroke-width="0.2">WT</text>
<path d="M270.1 238.445L271.8 235.385L273.5 238.445Z" fill="#000"/>
<text transform="translate(275.8 239.0)" font-size="6.3" font-weight="bold" text-anchor="start" fill="#000" stroke="#000" stroke-width="0.2">KO</text>
<circle cx="271.8" cy="244.9" r="1.35" fill="#fff" stroke="#000" stroke-width="0.85"/>
<text transform="translate(275.8 247.0)" font-size="6.3" font-weight="bold" text-anchor="start" fill="#000" stroke="#000" stroke-width="0.2">MOI 3</text>
<circle cx="271.8" cy="252.8" r="1.35" fill="#7a7a7a" stroke="#000" stroke-width="0.9"/>
<text transform="translate(275.8 255.0)" font-size="6.3" font-weight="bold" text-anchor="start" fill="#000" stroke="#000" stroke-width="0.2">MOI 15-25</text>
<text transform="translate(344.5 147.3)" font-size="13.5" font-weight="bold" text-anchor="start" fill="#000" stroke="#000" stroke-width="0.3">E</text>
<text transform="translate(351.6 208.4) rotate(-90) scale(1.07 1)" font-size="5.9" font-weight="bold" text-anchor="middle" fill="#000" stroke="#000" stroke-width="0.2">Relative Units</text>
<line x1="369.1" y1="157.5" x2="519.0" y2="157.5" stroke="#1a1a1a" stroke-width="0.95" stroke-linecap="butt"/>
<line x1="369.1" y1="258.5" x2="519.0" y2="258.5" stroke="#1a1a1a" stroke-width="0.95" stroke-linecap="butt"/>
<line x1="369.1" y1="157.0" x2="369.1" y2="259.0" stroke="#1a1a1a" stroke-width="1.0" stroke-linecap="butt"/>
<line x1="443.9" y1="157.0" x2="443.9" y2="259.0" stroke="#1a1a1a" stroke-width="1.0" stroke-linecap="butt"/>
<line x1="518.5" y1="157.0" x2="518.5" y2="259.0" stroke="#1a1a1a" stroke-width="1.0" stroke-linecap="butt"/>
<line x1="366.3" y1="157.5" x2="369.1" y2="157.5" stroke="#000" stroke-width="0.9" stroke-linecap="butt"/>
<text transform="translate(364.20000000000005 159.9) scale(0.9 1)" font-size="6.8" font-weight="bold" text-anchor="end" stroke="#000" stroke-width="0.15">10<tspan font-size="3.4" dy="-2.9">4</tspan></text>
<line x1="366.3" y1="182.75" x2="369.1" y2="182.75" stroke="#000" stroke-width="0.9" stroke-linecap="butt"/>
<text transform="translate(364.20000000000005 185.15) scale(0.9 1)" font-size="6.8" font-weight="bold" text-anchor="end" stroke="#000" stroke-width="0.15">10<tspan font-size="3.4" dy="-2.9">3</tspan></text>
<line x1="366.3" y1="208.0" x2="369.1" y2="208.0" stroke="#000" stroke-width="0.9" stroke-linecap="butt"/>
<text transform="translate(364.20000000000005 210.4) scale(0.9 1)" font-size="6.8" font-weight="bold" text-anchor="end" stroke="#000" stroke-width="0.15">10<tspan font-size="3.4" dy="-2.9">2</tspan></text>
<line x1="366.3" y1="233.25" x2="369.1" y2="233.25" stroke="#000" stroke-width="0.9" stroke-linecap="butt"/>
<text transform="translate(364.20000000000005 235.65) scale(0.9 1)" font-size="6.8" font-weight="bold" text-anchor="end" stroke="#000" stroke-width="0.15">10<tspan font-size="3.4" dy="-2.9">1</tspan></text>
<line x1="366.3" y1="258.5" x2="369.1" y2="258.5" stroke="#000" stroke-width="0.9" stroke-linecap="butt"/>
<text transform="translate(364.20000000000005 260.9) scale(0.9 1)" font-size="6.8" font-weight="bold" text-anchor="end" stroke="#000" stroke-width="0.15">10<tspan font-size="3.4" dy="-2.9">0</tspan></text>
<text transform="translate(405.4 154.0) scale(1.02 1)" font-size="9.8" font-weight="bold" text-anchor="middle" fill="#000" stroke="#000" stroke-width="0.3">IgM</text>
<text transform="translate(481.0 154.0) scale(1.02 1)" font-size="9.8" font-weight="bold" text-anchor="middle" fill="#000" stroke="#000" stroke-width="0.3">TNP-IgM</text>
<path d="M394.5 177.6L394.5 174.4L431.6 174.4L431.6 177.6" fill="none" stroke="#444" stroke-width="0.8"/>
<text transform="translate(413.9 174.9)" font-size="8.8" font-weight="bold" text-anchor="middle" fill="#000" stroke="#000" stroke-width="0.25" stroke-linejoin="round" letter-spacing="0.35">**</text>
<path d="M473.2 211.6L473.2 208.4L510.5 208.4L510.5 211.6" fill="none" stroke="#444" stroke-width="0.8"/>
<text transform="translate(491.1 208.9)" font-size="8.8" font-weight="bold" text-anchor="middle" fill="#000" stroke="#000" stroke-width="0.25" stroke-linejoin="round" letter-spacing="0.35">*</text>
<path d="M371.9 181.8L373.5 180.20000000000002L375.1 181.8L373.5 183.4Z" fill="#000"/>
<path d="M374.4 180.3L376 178.70000000000002L377.6 180.3L376 181.9Z" fill="#000"/>
<path d="M376.9 179.3L378.5 177.70000000000002L380.1 179.3L378.5 180.9Z" fill="#000"/>
<path d="M379.4 181.3L381 179.70000000000002L382.6 181.3L381 182.9Z" fill="#000"/>
<path d="M375.4 183.3L377 181.70000000000002L378.6 183.3L377 184.9Z" fill="#000"/>
<path d="M378.4 183.8L380 182.20000000000002L381.6 183.8L380 185.4Z" fill="#000"/>
<path d="M376.4 181.5L378 179.9L379.6 181.5L378 183.1Z" fill="#000"/>
<line x1="371.8" y1="181.9" x2="384" y2="181.9" stroke="#000" stroke-width="1.5" stroke-linecap="butt"/>
<path d="M392.7 212.43L394.5 209.19L396.3 212.43Z" fill="#000"/>
<path d="M392.7 219.63L394.5 216.39L396.3 219.63Z" fill="#000"/>
<path d="M392.7 226.53L394.5 223.29L396.3 226.53Z" fill="#000"/>
<path d="M391.2 229.03L393 225.79L394.8 229.03Z" fill="#000"/>
<path d="M394.4 229.03L396.2 225.79L398.0 229.03Z" fill="#000"/>
<path d="M392.7 230.83L394.5 227.59L396.3 230.83Z" fill="#000"/>
<path d="M390.8 226.13L392.6 222.89L394.40000000000003 226.13Z" fill="#000"/>
<path d="M394.59999999999997 226.13L396.4 222.89L398.2 226.13Z" fill="#000"/>
<line x1="388" y1="222.1" x2="401.2" y2="222.1" stroke="#000" stroke-width="1.5" stroke-linecap="butt"/>
<circle cx="412.1" cy="187.9" r="1.5" fill="#fff" stroke="#000" stroke-width="0.9"/>
<circle cx="412.1" cy="199.8" r="1.5" fill="#fff" stroke="#000" stroke-width="0.9"/>
<circle cx="412.1" cy="205.6" r="1.5" fill="#fff" stroke="#000" stroke-width="0.9"/>
<circle cx="406.8" cy="217" r="1.5" fill="#fff" stroke="#000" stroke-width="0.9"/>
<circle cx="414.4" cy="216.2" r="1.5" fill="#fff" stroke="#000" stroke-width="0.9"/>
<circle cx="412.1" cy="219.3" r="1.5" fill="#fff" stroke="#000" stroke-width="0.9"/>
<circle cx="412.1" cy="226.8" r="1.5" fill="#fff" stroke="#000" stroke-width="0.9"/>
<line x1="405.6" y1="203.0" x2="418.8" y2="203.0" stroke="#000" stroke-width="1.5" stroke-linecap="butt"/>
<circle cx="429.4" cy="186.5" r="1.45" fill="#5a5a5a" stroke="#000" stroke-width="0.95"/>
<circle cx="426.9" cy="195.1" r="1.45" fill="#5a5a5a" stroke="#000" stroke-width="0.95"/>
<circle cx="431.3" cy="196.3" r="1.45" fill="#5a5a5a" stroke="#000" stroke-width="0.95"/>
<circle cx="426.3" cy="198.2" r="1.45" fill="#5a5a5a" stroke="#000" stroke-width="0.95"/>
<circle cx="429.4" cy="198.8" r="1.45" fill="#5a5a5a" stroke="#000" stroke-width="0.95"/>
<circle cx="423.8" cy="201.3" r="1.45" fill="#5a5a5a" stroke="#000" stroke-width="0.95"/>
<circle cx="427.5" cy="201.6" r="1.45" fill="#5a5a5a" stroke="#000" stroke-width="0.95"/>
<circle cx="431.3" cy="200.7" r="1.45" fill="#5a5a5a" stroke="#000" stroke-width="0.95"/>
<circle cx="426.9" cy="206.4" r="1.45" fill="#5a5a5a" stroke="#000" stroke-width="0.95"/>
<circle cx="430.7" cy="206.7" r="1.45" fill="#5a5a5a" stroke="#000" stroke-width="0.95"/>
<circle cx="429.2" cy="209.9" r="1.45" fill="#5a5a5a" stroke="#000" stroke-width="0.95"/>
<circle cx="431.7" cy="209.5" r="1.45" fill="#5a5a5a" stroke="#000" stroke-width="0.95"/>
<circle cx="424" cy="214.3" r="1.45" fill="#5a5a5a" stroke="#000" stroke-width="0.95"/>
<circle cx="428.8" cy="215.5" r="1.45" fill="#5a5a5a" stroke="#000" stroke-width="0.95"/>
<circle cx="431.7" cy="214.5" r="1.45" fill="#5a5a5a" stroke="#000" stroke-width="0.95"/>
<circle cx="431.7" cy="218.3" r="1.45" fill="#5a5a5a" stroke="#000" stroke-width="0.95"/>
<circle cx="429.2" cy="222.2" r="1.45" fill="#5a5a5a" stroke="#000" stroke-width="0.95"/>
<line x1="422.5" y1="201.6" x2="435.7" y2="201.6" stroke="#000" stroke-width="1.5" stroke-linecap="butt"/>
<path d="M450.29999999999995 207.8L451.9 206.20000000000002L453.5 207.8L451.9 209.4Z" fill="#000"/>
<path d="M459.7 207L461.3 205.4L462.90000000000003 207L461.3 208.6Z" fill="#000"/>
<path d="M456.59999999999997 209.5L458.2 207.9L459.8 209.5L458.2 211.1Z" fill="#000"/>
<path d="M454.4 212.5L456 210.9L457.6 212.5L456 214.1Z" fill="#000"/>
<path d="M453.2 216.8L454.8 215.20000000000002L456.40000000000003 216.8L454.8 218.4Z" fill="#000"/>
<path d="M455.9 218.7L457.5 217.1L459.1 218.7L457.5 220.29999999999998Z" fill="#000"/>
<path d="M459.5 218.7L461.1 217.1L462.70000000000005 218.7L461.1 220.29999999999998Z" fill="#000"/>
<line x1="451.5" y1="211.8" x2="464.8" y2="211.8" stroke="#000" stroke-width="1.5" stroke-linecap="butt"/>
<path d="M468.9 233.43L470.7 230.19L472.5 233.43Z" fill="#000"/>
<path d="M472.9 233.23L474.7 229.98999999999998L476.5 233.23Z" fill="#000"/>
<path d="M476.4 235.13L478.2 231.89L480.0 235.13Z" fill="#000"/>
<path d="M470.2 237.13L472 233.89L473.8 237.13Z" fill="#000"/>
<path d="M473.3 237.53L475.1 234.29L476.90000000000003 237.53Z" fill="#000"/>
<path d="M473.3 243.53L475.1 240.29L476.90000000000003 243.53Z" fill="#000"/>
<path d="M471.4 246.43L473.2 243.19L475.0 246.43Z" fill="#000"/>
<path d="M475.5 246.43L477.3 243.19L479.1 246.43Z" fill="#000"/>
<path d="M473.3 248.73L475.1 245.48999999999998L476.90000000000003 248.73Z" fill="#000"/>
<line x1="468.8" y1="237.0" x2="482" y2="237.0" stroke="#000" stroke-width="1.5" stroke-linecap="butt"/>
<circle cx="488.2" cy="233.8" r="1.5" fill="#fff" stroke="#000" stroke-width="0.9"/>
<circle cx="491.4" cy="232.6" r="1.5" fill="#fff" stroke="#000" stroke-width="0.9"/>
<circle cx="494.1" cy="231.3" r="1.5" fill="#fff" stroke="#000" stroke-width="0.9"/>
<circle cx="495.8" cy="233.6" r="1.5" fill="#fff" stroke="#000" stroke-width="0.9"/>
<circle cx="490" cy="234.3" r="1.5" fill="#fff" stroke="#000" stroke-width="0.9"/>
<circle cx="493.3" cy="234.2" r="1.5" fill="#fff" stroke="#000" stroke-width="0.9"/>
<circle cx="492.4" cy="244.1" r="1.5" fill="#fff" stroke="#000" stroke-width="0.9"/>
<circle cx="494.9" cy="244.1" r="1.5" fill="#fff" stroke="#000" stroke-width="0.9"/>
<line x1="485.7" y1="235.2" x2="498.9" y2="235.2" stroke="#000" stroke-width="1.5" stroke-linecap="butt"/>
<circle cx="509.6" cy="220" r="1.45" fill="#5a5a5a" stroke="#000" stroke-width="0.95"/>
<circle cx="504.8" cy="224.4" r="1.45" fill="#5a5a5a" stroke="#000" stroke-width="0.95"/>
<circle cx="509.5" cy="225.5" r="1.45" fill="#5a5a5a" stroke="#000" stroke-width="0.95"/>
<circle cx="507.5" cy="228" r="1.45" fill="#5a5a5a" stroke="#000" stroke-width="0.95"/>
<circle cx="511" cy="228.2" r="1.45" fill="#5a5a5a" stroke="#000" stroke-width="0.95"/>
<circle cx="505.5" cy="230.5" r="1.45" fill="#5a5a5a" stroke="#000" stroke-width="0.95"/>
<circle cx="508.8" cy="230.8" r="1.45" fill="#5a5a5a" stroke="#000" stroke-width="0.95"/>
<circle cx="512" cy="230.5" r="1.45" fill="#5a5a5a" stroke="#000" stroke-width="0.95"/>
<circle cx="514.5" cy="230.8" r="1.45" fill="#5a5a5a" stroke="#000" stroke-width="0.95"/>
<circle cx="504.5" cy="233.2" r="1.45" fill="#5a5a5a" stroke="#000" stroke-width="0.95"/>
<circle cx="507.5" cy="233.5" r="1.45" fill="#5a5a5a" stroke="#000" stroke-width="0.95"/>
<circle cx="510.5" cy="233.3" r="1.45" fill="#5a5a5a" stroke="#000" stroke-width="0.95"/>
<circle cx="513.5" cy="233.5" r="1.45" fill="#5a5a5a" stroke="#000" stroke-width="0.95"/>
<circle cx="505.5" cy="236" r="1.45" fill="#5a5a5a" stroke="#000" stroke-width="0.95"/>
<circle cx="508.5" cy="236.2" r="1.45" fill="#5a5a5a" stroke="#000" stroke-width="0.95"/>
<circle cx="511.5" cy="236" r="1.45" fill="#5a5a5a" stroke="#000" stroke-width="0.95"/>
<circle cx="507" cy="238.6" r="1.45" fill="#5a5a5a" stroke="#000" stroke-width="0.95"/>
<circle cx="510.5" cy="238.8" r="1.45" fill="#5a5a5a" stroke="#000" stroke-width="0.95"/>
<circle cx="512.8" cy="237.6" r="1.45" fill="#5a5a5a" stroke="#000" stroke-width="0.95"/>
<circle cx="509" cy="241.3" r="1.45" fill="#5a5a5a" stroke="#000" stroke-width="0.95"/>
<circle cx="511" cy="240.6" r="1.45" fill="#5a5a5a" stroke="#000" stroke-width="0.95"/>
<line x1="503.2" y1="231.0" x2="516.6" y2="231.0" stroke="#000" stroke-width="1.5" stroke-linecap="butt"/>
</svg>
</body>
</html>
